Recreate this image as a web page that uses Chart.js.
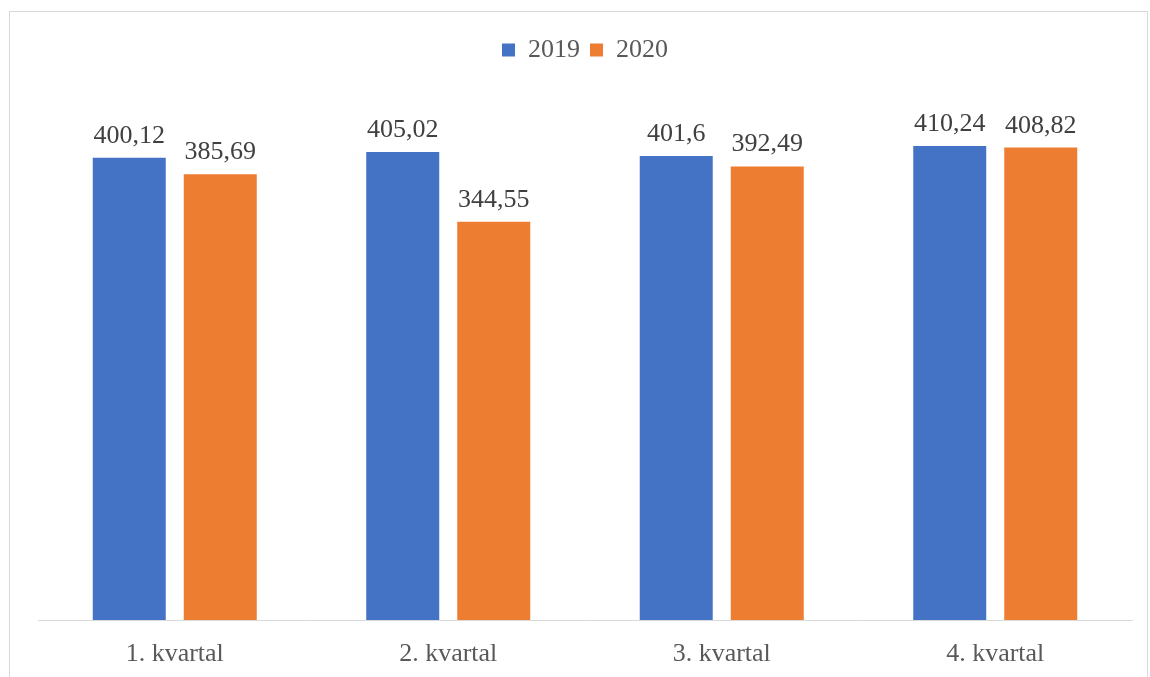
<!DOCTYPE html>
<html>
<head>
<meta charset="utf-8">
<script src="https://cdn.jsdelivr.net/npm/chart.js@4.4.1/dist/chart.umd.min.js"></script>
<style>
  html, body { margin: 0; padding: 0; background: #fff; }
  #wrap { position: relative; width: 1150px; height: 677px; }
</style>
</head>
<body>
<div id="wrap"><canvas id="chart"></canvas></div>
<script>
// chart data
const categories = ['1. kvartal', '2. kvartal', '3. kvartal', '4. kvartal'];
const values2019 = [400.12, 405.02, 401.6, 410.24];
const values2020 = [385.69, 344.55, 392.49, 408.82];
const seriesNames = ['2019', '2020'];

const FONT = '"Liberation Serif", "Times New Roman", serif';
const TEXT_COLOR = '#595959';

// light frame around the whole chart
const framePlugin = {
    id: 'frame',
    beforeDraw(chart) {
        const ctx = chart.ctx;
        ctx.save();
        ctx.strokeStyle = '#d9d9d9';
        ctx.lineWidth = 1;
        ctx.strokeRect(9.5, 11.5, 1138, 670);
        ctx.restore();
    }
};

// value labels above the bars, decimal comma
const valueLabels = {
    id: 'valueLabels',
    afterDatasetsDraw(chart) {
        const ctx = chart.ctx;
        ctx.save();
        ctx.font = '26px ' + FONT;
        ctx.fillStyle = '#404040';
        ctx.textAlign = 'center';
        ctx.textBaseline = 'alphabetic';
        chart.data.datasets.forEach((ds, i) => {
            const meta = chart.getDatasetMeta(i);
            meta.data.forEach((bar, j) => {
                const txt = String(ds.data[j]).replace('.', ',');
                ctx.fillText(txt, bar.x, bar.y - 15);
            });
        });
        ctx.restore();
    }
};

// extra room under the legend
const legendGap = {
    id: 'legendGap',
    beforeInit(chart) {
        const fit = chart.legend.fit;
        chart.legend.fit = function () {
            fit.bind(chart.legend)();
            this.height += 27;
        };
    }
};

const ctx = document.getElementById('chart').getContext('2d');
new Chart(ctx, {
    type: 'bar',
    data: {
        labels: categories,
        datasets: [{
            label: seriesNames[0],
            data: values2019,
            backgroundColor: '#4472C4'
        }, {
            label: seriesNames[1],
            data: values2020,
            backgroundColor: '#ED7D31'
        }]
    },
    options: {
        responsive: true,
        maintainAspectRatio: false,
        animation: false,
        categoryPercentage: 0.6655,
        barPercentage: 0.802,
        layout: {
            padding: { left: 38, right: 18, top: 27, bottom: 0 }
        },
        plugins: {
            legend: {
                display: true,
                position: 'top',
                labels: {
                    boxWidth: 13,
                    boxHeight: 13,
                    padding: 10,
                    color: TEXT_COLOR,
                    font: { family: FONT, size: 26 }
                }
            },
            tooltip: { enabled: false }
        },
        scales: {
            y: {
                display: false,
                min: 0,
                max: 450
            },
            x: {
                grid: { display: false },
                border: { display: true, color: '#d9d9d9', width: 1 },
                ticks: {
                    color: TEXT_COLOR,
                    padding: 11,
                    font: { family: FONT, size: 26 }
                },
                afterFit(scale) {
                    scale.height = 57;
                }
            }
        }
    },
    plugins: [framePlugin, legendGap, valueLabels]
});
</script>
</body>
</html>
